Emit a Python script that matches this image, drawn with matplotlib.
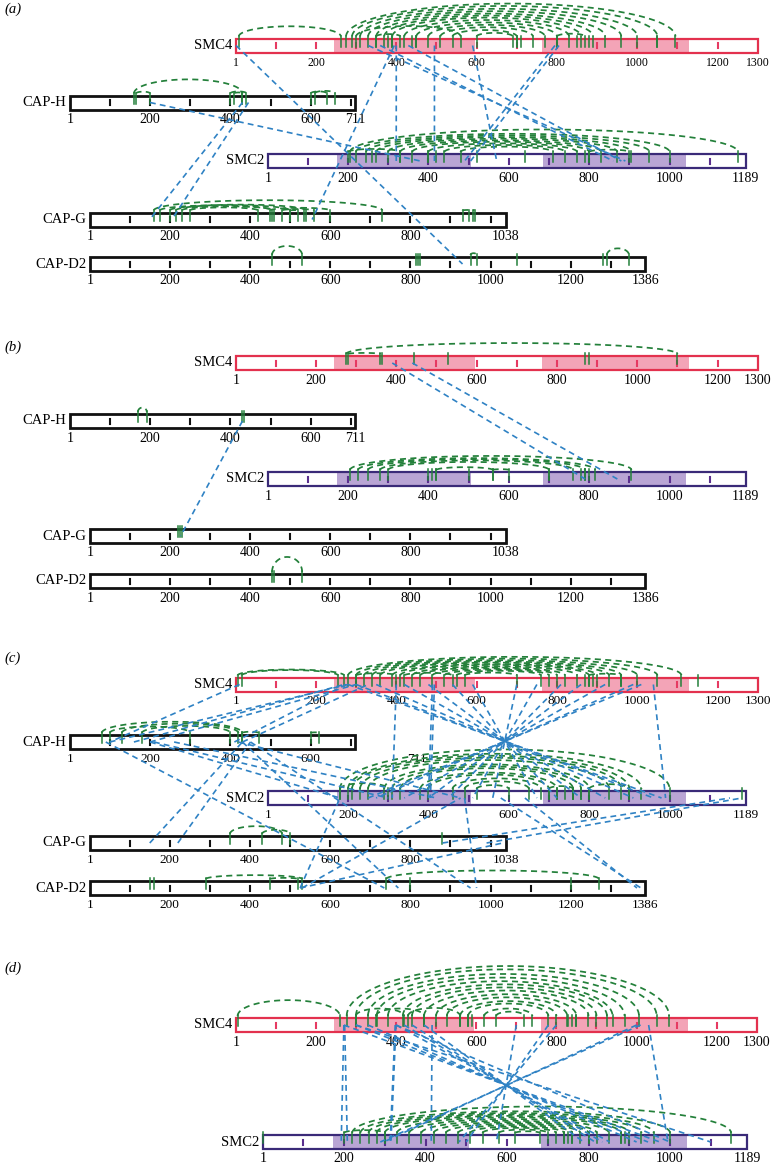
import numpy as np
import matplotlib
matplotlib.use('Agg')
import matplotlib.pyplot as plt
from matplotlib.patches import Rectangle

plt.rcParams['font.family'] = ['Liberation Serif', 'DejaVu Serif']

# ---- data ----
lengths = {'SMC4': 1300, 'CAP-H': 711, 'SMC2': 1189, 'CAP-G': 1038, 'CAP-D2': 1386}
smc4_domains = [(245, 595), (762, 1128)]
smc2_domains = [(172, 507), (684, 1042)]

# panel (a): intra-protein links (arcs), single sites, inter-protein links
arcs_a = {
    'SMC4': [(8, 262), (275, 1095), (290, 1050), (310, 1000), (330, 960), (350, 920),
             (370, 890), (390, 860), (420, 830), (450, 800), (480, 770), (510, 740),
             (540, 700), (300, 560), (350, 410), (600, 690), (800, 870)],
    'CAP-H': [(160, 430), (165, 200), (400, 440), (410, 430), (600, 640), (610, 660)],
    'SMC2': [(205, 1170), (220, 1000), (245, 950), (270, 905), (300, 870), (330, 830),
             (360, 800), (400, 770), (440, 740), (480, 710), (200, 330), (800, 900)],
    'CAP-G': [(160, 730), (175, 455), (200, 500), (215, 540), (230, 460), (250, 420),
              (450, 600), (480, 560), (500, 520), (930, 960)],
    'CAP-D2': [(455, 530), (950, 965), (1290, 1345)],
}
sites_a = {
    'SMC4': [380, 390, 440, 450, 700, 710, 850, 880, 1050],
    'SMC2': [260, 400, 420, 520, 640, 790],
    'CAP-G': [535, 945, 955],
    'CAP-D2': [815, 820, 825, 1065, 1280],
}
links_a = [
    ('SMC4', 1, 'CAP-D2', 930), ('CAP-H', 200, 'SMC2', 380), ('CAP-H', 430, 'CAP-G', 150),
    ('CAP-H', 445, 'CAP-G', 205), ('SMC4', 395, 'CAP-G', 555), ('SMC4', 400, 'SMC2', 320),
    ('SMC4', 495, 'SMC2', 415), ('SMC4', 590, 'SMC2', 570), ('SMC4', 795, 'SMC2', 490),
    ('SMC4', 805, 'SMC2', 505), ('SMC4', 360, 'SMC2', 860), ('SMC4', 330, 'SMC2', 890),
    ('SMC4', 430, 'SMC2', 880),
]

# panel (b)
arcs_b = {
    'SMC4': [(275, 1100), (280, 360)],
    'CAP-H': [(170, 192)],
    'SMC2': [(205, 905), (225, 815), (250, 790), (280, 760), (300, 700), (420, 560), (560, 600)],
    'CAP-D2': [(455, 530)],
}
sites_b = {
    'SMC4': [365, 445, 530, 870, 880],
    'CAP-H': [430, 435],
    'SMC2': [400, 410, 420, 500, 700, 780, 790, 800],
    'CAP-G': [220, 225, 230],
    'CAP-D2': [460],
}
links_b = [('SMC4', 390, 'SMC2', 790), ('SMC4', 440, 'SMC2', 870), ('CAP-H', 430, 'CAP-G', 227)]

# panel (c)
arcs_c = {
    'SMC4': [(5, 270), (15, 255), (280, 1110), (300, 1050), (320, 1000), (340, 960),
             (360, 930), (390, 900), (410, 880), (440, 850), (460, 820), (490, 800),
             (520, 780), (550, 760), (570, 700), (300, 400), (420, 540), (880, 960)],
    'CAP-H': [(80, 430), (100, 300), (130, 420), (180, 400), (430, 470), (600, 620)],
    'SMC2': [(180, 1000), (200, 930), (210, 900), (230, 880), (250, 850), (290, 800),
             (310, 780), (330, 760), (380, 720), (400, 700), (460, 680), (490, 650),
             (520, 600), (700, 760), (800, 900), (180, 300)],
    'CAP-G': [(350, 480), (430, 500)],
    'CAP-D2': [(290, 530), (740, 1270), (450, 520)],
}
sites_c = {
    'SMC4': [870, 890, 1150],
    'SMC2': [720, 740, 760, 780, 1180],
    'CAP-G': [880],
    'CAP-D2': [150, 160, 800, 1200],
}
links_c = [
    ('CAP-H', 100, 'SMC4', 280), ('CAP-H', 160, 'SMC4', 270), ('CAP-H', 200, 'SMC4', 300),
    ('CAP-H', 410, 'SMC4', 275), ('SMC4', 10, 'CAP-H', 100), ('CAP-H', 430, 'SMC4', 330),
    ('CAP-H', 200, 'SMC2', 180), ('CAP-H', 210, 'SMC2', 300), ('CAP-H', 260, 'SMC2', 420),
    ('CAP-H', 420, 'SMC2', 480), ('CAP-H', 90, 'CAP-D2', 735), ('CAP-H', 430, 'CAP-D2', 770),
    ('CAP-H', 450, 'CAP-D2', 950), ('CAP-G', 150, 'CAP-H', 430), ('CAP-G', 220, 'CAP-H', 450),
    ('CAP-D2', 525, 'SMC2', 180), ('CAP-D2', 530, 'SMC2', 480), ('CAP-G', 990, 'SMC2', 1180),
    ('CAP-G', 880, 'SMC2', 1150), ('CAP-D2', 525, 'CAP-G', 1030), ('SMC2', 490, 'CAP-D2', 965),
    ('SMC2', 640, 'CAP-D2', 1365), ('SMC2', 580, 'CAP-D2', 1375),
    ('SMC4', 400, 'SMC2', 310), ('SMC4', 490, 'SMC2', 400), ('SMC4', 495, 'SMC2', 405),
    ('SMC4', 1040, 'SMC2', 990),
    ('SMC4', 700, 'SMC2', 560), ('SMC4', 750, 'SMC2', 510), ('SMC4', 810, 'SMC2', 450),
    ('SMC4', 860, 'SMC2', 400), ('SMC4', 920, 'SMC2', 340), ('SMC4', 990, 'SMC2', 270),
    ('SMC4', 1010, 'SMC2', 250),
    ('SMC4', 280, 'SMC2', 980), ('SMC4', 300, 'SMC2', 960), ('SMC4', 350, 'SMC2', 910),
    ('SMC4', 420, 'SMC2', 840), ('SMC4', 480, 'SMC2', 780), ('SMC4', 540, 'SMC2', 720),
    ('SMC4', 590, 'SMC2', 670),
]

# panel (d)
arcs_d = {
    'SMC4': [(5, 260), (277, 1081), (300, 1050), (330, 1006), (352, 970), (380, 940),
             (417, 926), (440, 900), (470, 880), (500, 850), (527, 827), (560, 800),
             (580, 780), (620, 740), (650, 720), (300, 420), (350, 470), (430, 560)],
    'SMC2': [(220, 1150), (240, 1000), (260, 960), (280, 930), (300, 900), (330, 880),
             (360, 850), (390, 820), (420, 800), (450, 780), (480, 760), (510, 740),
             (540, 720), (580, 700), (620, 680), (200, 300)],
}
sites_d = {
    'SMC4': [580, 590, 830, 840, 850],
    'SMC2': [1, 740, 750, 760, 800, 880, 890],
}
links_d = [
    ('SMC4', 270, 'SMC2', 193), ('SMC4', 272, 'SMC2', 208), ('SMC4', 400, 'SMC2', 315),
    ('SMC4', 398, 'SMC2', 313), ('SMC4', 490, 'SMC2', 414), ('SMC4', 1030, 'SMC2', 995),
    ('SMC4', 270, 'SMC2', 975), ('SMC4', 300, 'SMC2', 946), ('SMC4', 330, 'SMC2', 918),
    ('SMC4', 400, 'SMC2', 852), ('SMC4', 420, 'SMC2', 834), ('SMC4', 440, 'SMC2', 816),
    ('SMC4', 470, 'SMC2', 788), ('SMC4', 700, 'SMC2', 574), ('SMC4', 780, 'SMC2', 500),
    ('SMC4', 800, 'SMC2', 482), ('SMC4', 1000, 'SMC2', 297), ('SMC4', 1010, 'SMC2', 289),
    ('SMC4', 400, 'SMC2', 1000), ('SMC4', 300, 'SMC2', 1100),
]

# ---- layout: protein -> (y centre, x of residue 1, px per residue, arc height factor) ----
layout_a = {'SMC4': (45.5, 236, 0.4017, 0.10), 'CAP-H': (102.5, 70, 0.402, 0.13),
            'SMC2': (161, 268, 0.402, 0.058), 'CAP-G': (219.5, 90, 0.401, 0.045),
            'CAP-D2': (264, 90, 0.401, 0.3)}
layout_b = {'SMC4': (363, 236, 0.4017, 0.033), 'CAP-H': (421, 70, 0.402, 0.5),
            'SMC2': (479, 268, 0.402, 0.05), 'CAP-G': (536, 90, 0.401, 0.1),
            'CAP-D2': (581, 90, 0.401, 0.5)}
layout_c = {'SMC4': (684.5, 236, 0.4017, 0.056), 'CAP-H': (742, 70, 0.402, 0.08),
            'SMC2': (798, 268, 0.402, 0.12), 'CAP-G': (843, 90, 0.401, 0.15),
            'CAP-D2': (888, 90, 0.401, 0.04)}
layout_d = {'SMC4': (1025, 236, 0.401, 0.155), 'SMC2': (1142, 263, 0.4074, 0.07)}

GREEN = '#23803a'
BLUE = '#2f82c4'
DASH = (0, (3.5, 2.5))
styles = {'SMC4': ('#e3314e', '#f3a4b7', '#e63a62', 1.6),
          'SMC2': ('#3a2a78', '#b9a5d4', '#5a2f8e', 1.6)}
domains = {'SMC4': smc4_domains, 'SMC2': smc2_domains}
HALF = 7


def draw_panel(ax, letter, label_y, layout, arcs, sites, links, fs=10, fs_over=None, end_dx=None):
    fs_over = fs_over or {}
    end_dx = end_dx or {}
    ax.text(4, label_y, '(' + letter + ')', fontsize=10.5, style='italic', va='center')

    def X(p, r):
        return layout[p][1] + (r - 1) * layout[p][2]

    for p, (y, x0, s, k) in layout.items():
        L = lengths[p]
        edge, shade, tcol, lw = styles.get(p, ('#111111', None, '#111111', 2.0))
        x1 = X(p, L)
        ax.add_patch(Rectangle((x0, y - HALF), x1 - x0, 2 * HALF, fc='white', ec='none', zorder=1))
        if shade:
            for a, b in domains[p]:
                ax.add_patch(Rectangle((X(p, a), y - HALF), X(p, b) - X(p, a), 2 * HALF,
                                       fc=shade, ec='none', zorder=1.5))
        for r in range(100, L, 100):
            ax.plot([X(p, r)] * 2, [y - 2.5, y + 2.5], color=tcol, lw=1.5, zorder=2)
        ax.add_patch(Rectangle((x0, y - HALF), x1 - x0, 2 * HALF, fill=False, ec=edge, lw=lw, zorder=3))
        ax.text(x0 - 4, y, p, ha='right', va='center', fontsize=10.5)
        # numbers every 200 residues; skip one that would crowd the length label
        ticks = [1] + [r for r in range(200, L, 200) if L - r > 60] + [L]
        for r in ticks:
            dx = end_dx.get(p, 0) if r == L else 0
            ax.text(X(p, r) + dx, y + 17, str(r), ha='center', va='center',
                    fontsize=fs_over.get(p, fs))

        stubs = list(sites.get(p, []))
        t = np.linspace(0, np.pi, 80)
        for a, b in arcs.get(p, []):
            xa, xb = X(p, a), X(p, b)
            span = xb - xa
            h = min(span / 2, k * span)
            xs = (xa + xb) / 2 - span / 2 * np.cos(t)
            ys = (y - HALF - 2) - h * np.sin(t)
            ax.plot(xs, ys, color=GREEN, lw=1.25, ls=DASH, zorder=4)
            stubs += [a, b]
        for r in stubs:
            ax.plot([X(p, r)] * 2, [y + 1, y - HALF - 3], color=GREEN, lw=1.1, zorder=4)

    for p1, r1, p2, r2 in links:
        ax.plot([X(p1, r1), X(p2, r2)], [layout[p1][0], layout[p2][0]],
                color=BLUE, lw=1.2, ls=DASH, zorder=5)


fig = plt.figure(figsize=(7.72, 11.67), dpi=100)
ax = fig.add_axes([0, 0, 1, 1])
ax.set_xlim(0, 772)
ax.set_ylim(1167, 0)
ax.axis('off')

draw_panel(ax, 'a', 9, layout_a, arcs_a, sites_a, links_a, fs=10, fs_over={'SMC4': 8.5})
draw_panel(ax, 'b', 347, layout_b, arcs_b, sites_b, links_b, fs=10)
draw_panel(ax, 'c', 658, layout_c, arcs_c, sites_c, links_c, fs=9.5, end_dx={'CAP-H': 62})
draw_panel(ax, 'd', 968, layout_d, arcs_d, sites_d, links_d, fs=10)

fig.savefig('out.png', dpi=100)
